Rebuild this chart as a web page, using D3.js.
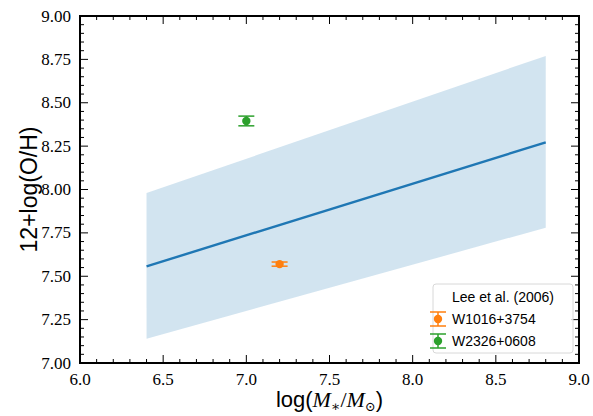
<!DOCTYPE html>
<html>
<head>
<meta charset="utf-8">
<script src="https://cdn.jsdelivr.net/npm/d3@7"></script>
<style>
  body { margin: 0; background: #fff; }
  svg { display: block; }
  .serif { font-family: "Liberation Serif", "DejaVu Serif", serif; }
  .sans { font-family: "Liberation Sans", Arial, sans-serif; }
</style>
</head>
<body>
<div id="chart"></div>
<script>
// Lee et al. (2006) relation and its spread
var relX = [6.4, 8.8];
var relY = [7.557, 8.272];
var bandUpper = [7.98, 8.77];
var bandLower = [7.14, 7.78];

// galaxies
var names = ["W1016+3754", "W2326+0608"];
var massX = [7.2, 7.0];
var ohY = [7.57, 8.395];
var ohErr = [0.012, 0.028];
var colors = ["#ff7f0e", "#2ca02c"];

var xTicks = [6.0, 6.5, 7.0, 7.5, 8.0, 8.5, 9.0];
var yTicks = [7.00, 7.25, 7.50, 7.75, 8.00, 8.25, 8.50, 8.75, 9.00];

var width = 593, height = 416;
var margin = {left: 80, right: 14, top: 16, bottom: 53};

var svg = d3.select('#chart')
            .append('svg')
            .attr('width', width)
            .attr('height', height);

var x = d3.scaleLinear().domain([6, 9]).range([margin.left, width - margin.right]);
var y = d3.scaleLinear().domain([7, 9]).range([height - margin.bottom, margin.top]);

// shaded band
var band = relX.map(function(d, i){ return {x: d, lo: bandLower[i], hi: bandUpper[i]}; });
svg.append('path')
   .datum(band)
   .attr('fill', '#1f77b4')
   .attr('fill-opacity', 0.2)
   .attr('d', d3.area()
       .x(function(d){ return x(d.x); })
       .y0(function(d){ return y(d.lo); })
       .y1(function(d){ return y(d.hi); }));

// relation line
svg.append('path')
   .datum(relX.map(function(d, i){ return [d, relY[i]]; }))
   .attr('fill', 'none')
   .attr('stroke', '#1f77b4')
   .attr('stroke-width', 2.4)
   .attr('d', d3.line().x(function(d){ return x(d[0]); }).y(function(d){ return y(d[1]); }));

// error bars + points
var cap = 8;
names.forEach(function(n, i){
    var g = svg.append('g').attr('stroke', colors[i]).attr('stroke-width', 1.5);
    var cx = x(massX[i]);
    g.append('line').attr('x1', cx).attr('x2', cx)
     .attr('y1', y(ohY[i] - ohErr[i])).attr('y2', y(ohY[i] + ohErr[i]));
    [ohY[i] - ohErr[i], ohY[i] + ohErr[i]].forEach(function(v){
        g.append('line').attr('x1', cx - cap).attr('x2', cx + cap)
         .attr('y1', y(v)).attr('y2', y(v));
    });
    svg.append('circle').attr('cx', cx).attr('cy', y(ohY[i])).attr('r', 4.2)
       .attr('fill', colors[i]);
});

// axes: ticks pointing inward on all four sides
var x0 = margin.left, x1 = width - margin.right;
var y0 = height - margin.bottom, y1 = margin.top;
var ax = svg.append('g').attr('stroke', '#000');

d3.range(6, 9.0001, 0.1).forEach(function(v){
    var major = Math.abs(v * 2 - Math.round(v * 2)) < 1e-6;
    var len = major ? 8 : 4;
    ax.append('line').attr('x1', x(v)).attr('x2', x(v)).attr('y1', y0).attr('y2', y0 - len).attr('stroke-width', 1);
    ax.append('line').attr('x1', x(v)).attr('x2', x(v)).attr('y1', y1).attr('y2', y1 + len).attr('stroke-width', 1);
});
d3.range(7, 9.0001, 0.05).forEach(function(v){
    var major = Math.abs(v * 4 - Math.round(v * 4)) < 1e-6;
    var len = major ? 8 : 4;
    ax.append('line').attr('y1', y(v)).attr('y2', y(v)).attr('x1', x0).attr('x2', x0 + len).attr('stroke-width', 1);
    ax.append('line').attr('y1', y(v)).attr('y2', y(v)).attr('x1', x1).attr('x2', x1 - len).attr('stroke-width', 1);
});

svg.append('rect')
   .attr('x', x0).attr('y', y1)
   .attr('width', x1 - x0).attr('height', y0 - y1)
   .attr('fill', 'none').attr('stroke', '#000').attr('stroke-width', 2);

svg.selectAll('.xt').data(xTicks).enter().append('text')
   .attr('class', 'serif')
   .attr('x', function(d){ return x(d); })
   .attr('y', y0 + 22)
   .attr('text-anchor', 'middle')
   .style('font-size', '17px')
   .text(function(d){ return d.toFixed(1); });

svg.selectAll('.yt').data(yTicks).enter().append('text')
   .attr('class', 'serif')
   .attr('x', x0 - 9)
   .attr('y', function(d){ return y(d) + 5.5; })
   .attr('text-anchor', 'end')
   .style('font-size', '17px')
   .text(function(d){ return d.toFixed(2); });

// axis labels
svg.append('text')
   .attr('class', 'sans')
   .attr('transform', 'translate(37,' + ((y0 + y1) / 2) + ') rotate(-90)')
   .attr('text-anchor', 'middle')
   .style('font-size', '23px')
   .text('12+log(O/H)');

var xl = svg.append('text')
   .attr('class', 'sans')
   .attr('x', (x0 + x1) / 2)
   .attr('y', 407)
   .attr('text-anchor', 'middle')
   .style('font-size', '22px');
xl.append('tspan').text('log(');
xl.append('tspan').attr('class', 'serif').style('font-style', 'italic').text('M');
xl.append('tspan').attr('class', 'serif').attr('dy', 4).style('font-size', '14px').text('∗');
xl.append('tspan').attr('class', 'serif').attr('dy', -4).text('/');
xl.append('tspan').attr('class', 'serif').style('font-style', 'italic').text('M');
xl.append('tspan').attr('class', 'serif').attr('dy', 4).style('font-size', '13px').text('⊙');
xl.append('tspan').attr('dy', -4).text(')');

// legend
var lg = svg.append('g').attr('transform', 'translate(433,284)');
lg.append('rect').attr('width', 140).attr('height', 69).attr('rx', 3)
  .attr('fill', '#fff').attr('fill-opacity', 0.8)
  .attr('stroke', '#d8d8d8').attr('stroke-width', 1);

var legendLabels = ['Lee et al. (2006)'].concat(names);
legendLabels.forEach(function(t, i){
    var ly = 13 + i * 22;
    lg.append('text').attr('class', 'sans').attr('x', 19).attr('y', ly + 5)
      .style('font-size', '14px')
      .text(t);
    if (i > 0) {
        var c = colors[i - 1];
        var hg = lg.append('g').attr('stroke', c).attr('stroke-width', 1.5);
        hg.append('line').attr('x1', 5).attr('x2', 5).attr('y1', ly - 7).attr('y2', ly + 7);
        hg.append('line').attr('x1', -3).attr('x2', 13).attr('y1', ly - 7).attr('y2', ly - 7);
        hg.append('line').attr('x1', -3).attr('x2', 13).attr('y1', ly + 7).attr('y2', ly + 7);
        lg.append('circle').attr('cx', 5).attr('cy', ly).attr('r', 4.2).attr('fill', c);
    }
});
</script>
</body>
</html>
